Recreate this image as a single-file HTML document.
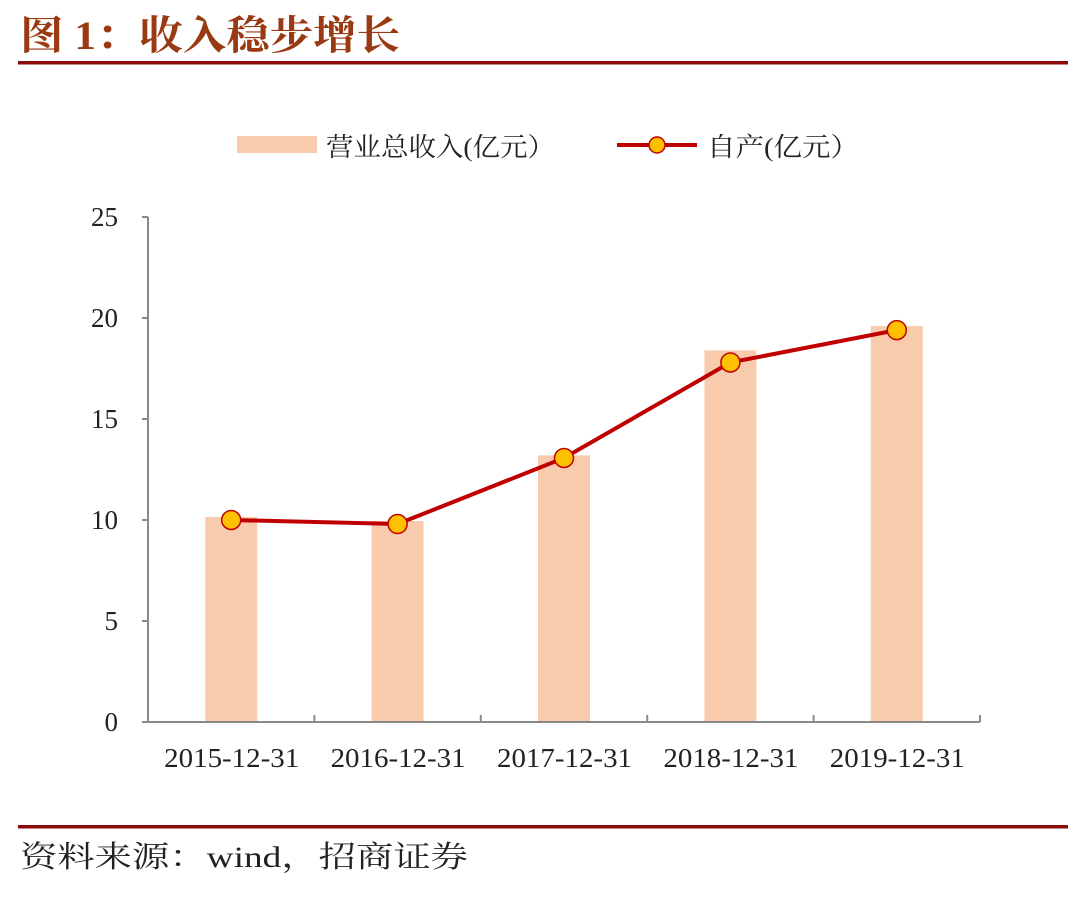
<!DOCTYPE html>
<html><head><meta charset="utf-8"><style>
html,body{margin:0;padding:0;background:#fff;width:1080px;height:897px;overflow:hidden}
svg text{font-family:"Liberation Serif","Noto Serif CJK SC",serif}
</style></head><body>
<svg id="c" width="1080" height="897">
<text x="20" y="49" font-size="40" font-weight="bold" fill="#9a3a12" textLength="380" lengthAdjust="spacingAndGlyphs">图 1：收入稳步增长</text>
<rect x="18" y="61" width="1050" height="3.5" fill="#8b0a0a"/>
<g>
<rect x="237" y="136" width="80" height="17" fill="#f8cbad"/>
<text x="326" y="156" font-size="26" fill="#222" textLength="229" lengthAdjust="spacingAndGlyphs">营业总收入(亿元）</text>
<line x1="617" y1="145" x2="697" y2="145" stroke="#c00000" stroke-width="4"/>
<circle cx="657" cy="145" r="8" fill="#ffc000" stroke="#c00000" stroke-width="1.5"/>
<text x="707" y="156" font-size="26" fill="#222" textLength="152" lengthAdjust="spacingAndGlyphs">自产(亿元）</text>
</g>
<g id="plot"></g>
<rect x="18" y="825" width="1050" height="3.5" fill="#8b0a0a"/>
<text x="20" y="867" font-size="30" fill="#222" textLength="448" lengthAdjust="spacingAndGlyphs">资料来源：wind，招商证券</text>
</svg>
<script>
const categories=["2015-12-31","2016-12-31","2017-12-31","2018-12-31","2019-12-31"];
const revenue=[10.15,9.95,13.2,18.4,19.6];
const selfProduced=[10.0,9.8,13.07,17.8,19.4];
const yTicks=[0,5,10,15,20,25];
const X0=148,X1=980,Y0=722,Y1=217,YMAX=25;
const step=(X1-X0)/categories.length;
const xc=i=>X0+step*(i+0.5);
const y=v=>Y0-(v/YMAX)*(Y0-Y1);
const g=document.getElementById('plot');
const NS='http://www.w3.org/2000/svg';
function mk(t,a){const e=document.createElementNS(NS,t);for(const k in a)e.setAttribute(k,a[k]);g.appendChild(e);return e;}
revenue.forEach((v,i)=>{const r=mk('rect',{x:xc(i)-26,y:y(v),width:52,height:Y0-y(v),fill:'#f8cbad'});

});
let a=mk('line',{x1:X0,y1:Y1,x2:X0,y2:Y0,stroke:'#898989','stroke-width':2});


a=mk('line',{x1:X0,y1:Y0,x2:X1,y2:Y0,stroke:'#898989','stroke-width':2});


yTicks.forEach(t=>{const l=mk('line',{x1:X0-6,y1:y(t),x2:X0,y2:y(t),stroke:'#898989','stroke-width':2});


const tx=mk('text',{x:X0-30,y:y(t)+9,'font-size':27,'text-anchor':'end',fill:'#222'});tx.textContent=t;

});
for(let i=0;i<=categories.length;i++){const l=mk('line',{x1:X0+step*i,y1:Y0-7,x2:X0+step*i,y2:Y0,stroke:'#898989','stroke-width':2});

}
categories.forEach((c,i)=>{const tx=mk('text',{x:xc(i)-67,y:767,'font-size':27,fill:'#222',textLength:135,lengthAdjust:'spacingAndGlyphs'});tx.textContent=c;

});
const pl=mk('polyline',{points:selfProduced.map((v,i)=>xc(i)+','+y(v)).join(' '),fill:'none',stroke:'#c00000','stroke-width':4});


selfProduced.forEach((v,i)=>{const c=mk('circle',{cx:xc(i),cy:y(v),r:9.5,fill:'#ffc000',stroke:'#c00000','stroke-width':1.5});

});
</script>
</body></html>
